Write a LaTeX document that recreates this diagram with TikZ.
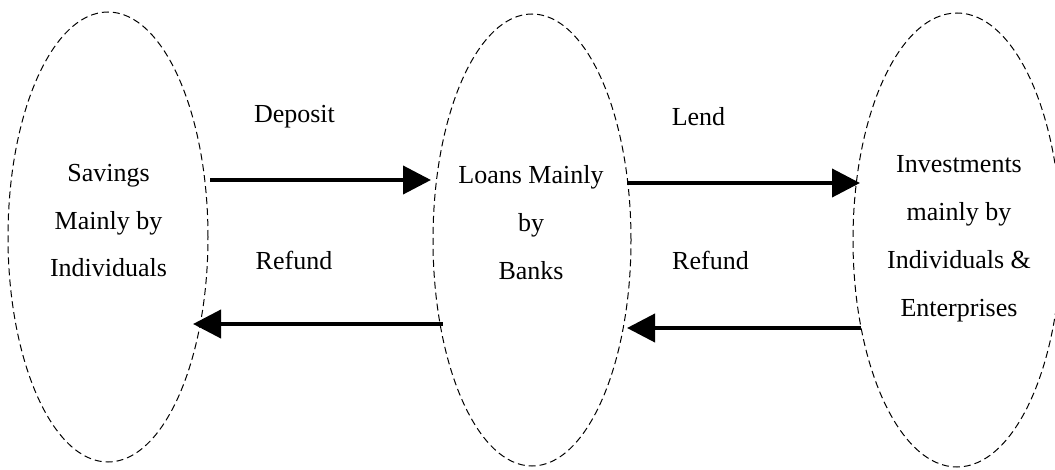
\documentclass[tikz,border=0pt]{standalone}
\usepackage{fontspec}
\setmainfont{Liberation Serif}
\usetikzlibrary{shapes.geometric,arrows.meta}

\tikzset{
  zone/.style={ellipse, draw, line width=1pt, dash pattern=on 7pt off 4pt,
               inner sep=0pt, outer sep=0pt},
  flow/.style={line width=4pt, -{Triangle[length=28pt,width=28pt]}},
  txt/.style={font=\fontsize{26}{47.7}\selectfont, align=center,
              anchor=base, inner sep=0pt}
}

\begin{document}
\begin{tikzpicture}[x=1pt,y=1pt]
  \useasboundingbox (0,0) rectangle (1055,469);

  % the three sectors
  \node[zone, minimum width=200pt, minimum height=450pt] (e1) at (108,232) {};
  \node[zone, minimum width=198pt, minimum height=452pt] (e2) at (532,229) {};
  \node[zone, minimum width=208pt, minimum height=454pt] (e3) at (957,229) {};

  % sector texts (placed by the baseline of their last line)
  \node[txt] (t1) at (108.5,192) {Savings\\Mainly by\\Individuals};
  \node[txt] (t2) at (531,189.7) {Loans Mainly\\by\\Banks};
  \node[txt] (t3) at (959,153) {Investments\\mainly by\\Individuals \&\\Enterprises};

  % flow labels
  \node[txt] (l1) at (294.5,346) {Deposit};
  \node[txt] (l2) at (698.5,343) {Lend};
  \node[txt] (l3) at (294,199) {Refund};
  \node[txt] (l4) at (710.5,199) {Refund};

  % flows between the sectors
  \draw[flow] ([shift={(2,57)}]e1.east) -- ([shift={(-2,60)}]e2.west);
  \draw[flow] ([shift={(10,-84)}]e2.west) -- ([shift={(-15,-87)}]e1.east);
  \draw[flow] ([shift={(-4,57)}]e2.east) -- ([shift={(7,57)}]e3.west);
  \draw[flow] ([shift={(8,-88)}]e3.west) -- ([shift={(-4,-88)}]e2.east);
\end{tikzpicture}
\end{document}
